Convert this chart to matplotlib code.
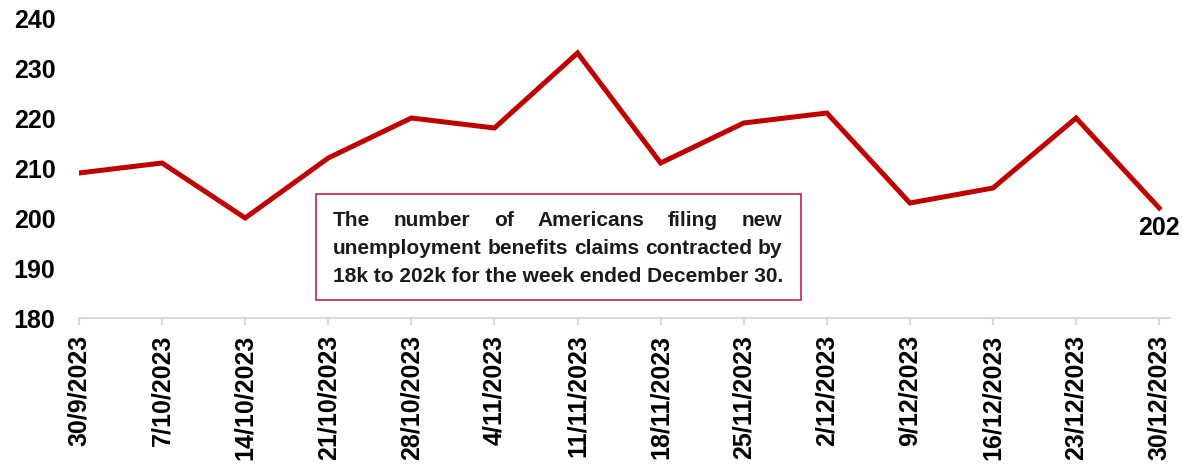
import matplotlib
matplotlib.use("Agg")
import matplotlib.pyplot as plt
from matplotlib.patches import Rectangle

dates = ["30/9/2023", "7/10/2023", "14/10/2023", "21/10/2023", "28/10/2023",
         "4/11/2023", "11/11/2023", "18/11/2023", "25/11/2023", "2/12/2023",
         "9/12/2023", "16/12/2023", "23/12/2023", "30/12/2023"]
claims = [209, 211, 200, 212, 220, 218, 233, 211, 219, 221, 203, 206, 220, 202]
yticks = [180, 190, 200, 210, 220, 230, 240]
note_lines = ["The number of Americans filing new",
              "unemployment benefits claims contracted by",
              "18k to 202k for the week ended December 30."]

plt.rcParams['font.family'] = ['Liberation Sans', 'DejaVu Sans']
W, H = 1183, 467
fig = plt.figure(figsize=(W / 100, H / 100), dpi=100)
ax = fig.add_axes([79 / W, 1 - 318 / H, (1170 - 79) / W, 300 / H])

x = list(range(len(dates)))
ax.plot(x, claims, color="#C00000", lw=3.6, solid_joinstyle="miter", zorder=3)
ax.set_xlim(0, 13.13)
ax.set_ylim(180, 240)
ax.set_yticks(yticks)
ax.set_yticklabels([str(v) for v in yticks], fontsize=18, fontweight="bold")
ax.set_xticks(x)
ax.set_xticklabels(dates, rotation=90, fontsize=18, fontweight="bold")
ax.tick_params(axis="y", length=0, pad=17)
ax.tick_params(axis="x", length=5, width=1.5, color="#D9D9D9", pad=7)
for s in ["top", "right", "left"]:
    ax.spines[s].set_visible(False)
ax.spines["bottom"].set_color("#D9D9D9")
ax.spines["bottom"].set_linewidth(1.5)

ax.annotate(str(claims[-1]), (x[-1], claims[-1]), xytext=(0, -6),
            textcoords="offset points", ha="center", va="top",
            fontsize=18, fontweight="bold", color="black")

# annotation box (figure pixel coords)
def fx(px):
    return px / W

def fy(py):
    return 1 - py / H

fig.patches.append(Rectangle((fx(316), fy(300)), fx(801) - fx(316), fy(194) - fy(300),
                             transform=fig.transFigure, fill=True, facecolor="white",
                             edgecolor="#C8204A", lw=1.2, zorder=5))

left_px, right_px = 333, 782
line_y = [220, 248.5, 277]
renderer = fig.canvas.get_renderer()
for i, line in enumerate(note_lines):
    words = line.split(" ")
    if i == len(note_lines) - 1:
        fig.text(fx(left_px), fy(line_y[i]), line, fontsize=15, fontweight="bold",
                 color="#1A1A1A", ha="left", va="center", zorder=6)
        continue
    objs = [fig.text(0, fy(line_y[i]), w, fontsize=15, fontweight="bold",
                     color="#1A1A1A", ha="left", va="center", zorder=6) for w in words]
    widths = [o.get_window_extent(renderer).width for o in objs]
    gap = (right_px - left_px - sum(widths)) / (len(words) - 1)
    pos = left_px
    for o, w in zip(objs, widths):
        o.set_x(fx(pos))
        pos += w + gap

fig.savefig("out.png", dpi=100)
